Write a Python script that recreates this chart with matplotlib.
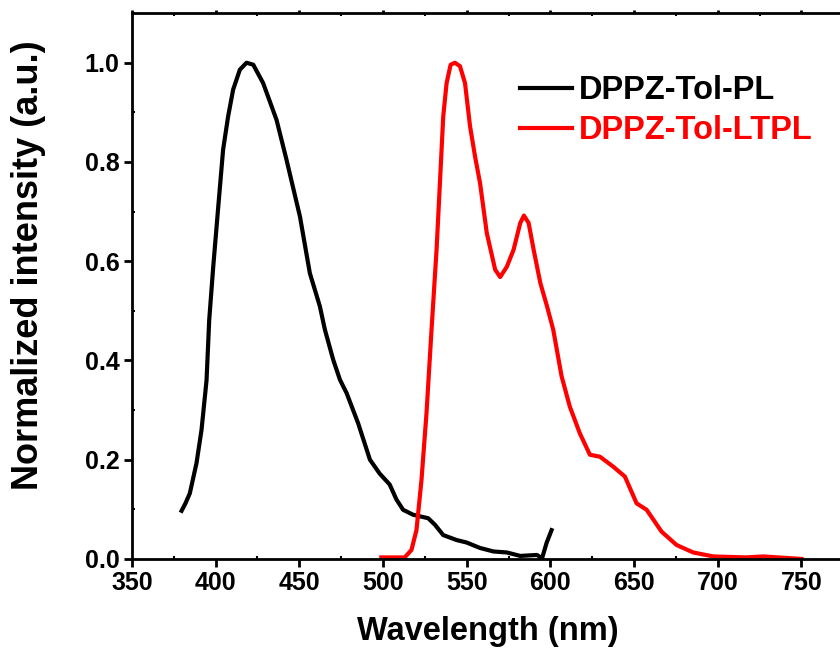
import matplotlib
matplotlib.use("Agg")
import matplotlib.pyplot as plt
from matplotlib.ticker import MultipleLocator

plt.rcParams['font.family'] = ['Liberation Sans', 'DejaVu Sans']
plt.rcParams['font.weight'] = 'bold'

# DPPZ-Tol-PL (black)
pl_wl = [379.7, 382.0, 384.6, 388.6, 391.6, 394.6, 396.2, 398.6, 401.6, 404.5,
         407.5, 410.5, 414.5, 418.5, 422.5, 428.4, 436.4, 442.4, 450.4, 456.3,
         462.3, 465.3, 470.3, 474.3, 478.3, 485.2, 492.2, 498.0, 504.0, 508.0,
         512.0, 518.0, 527.0, 531.0, 536.0, 544.0, 550.0, 558.0, 566.0, 574.0,
         582.0, 592.0, 595.0, 597.7, 600.7]
pl_int = [0.097, 0.112, 0.132, 0.193, 0.26, 0.36, 0.482, 0.589, 0.71, 0.825,
          0.892, 0.946, 0.986, 1.0, 0.996, 0.959, 0.885, 0.804, 0.69, 0.576,
          0.509, 0.462, 0.401, 0.361, 0.334, 0.273, 0.2, 0.172, 0.150, 0.120,
          0.099, 0.089, 0.082, 0.069, 0.048, 0.038, 0.033, 0.022, 0.015, 0.013,
          0.006, 0.008, 0.001, 0.032, 0.058]

# DPPZ-Tol-LTPL (red)
ltpl_wl = [499, 513, 517, 520, 523, 526, 529, 532, 534, 536, 538, 540.4, 543,
           546, 549, 552, 555, 558, 562, 567, 570, 574, 578, 582, 584.2, 587,
           590, 594, 598, 601.7, 606.7, 611.6, 617.6, 623.6, 629.6, 637.5,
           644.5, 651.5, 657.5, 666.4, 675.4, 685.3, 697.3, 717, 727, 750]
ltpl_int = [0.003, 0.003, 0.018, 0.058, 0.159, 0.294, 0.462, 0.623, 0.757,
            0.892, 0.959, 0.996, 1.0, 0.993, 0.959, 0.872, 0.811, 0.757, 0.657,
            0.583, 0.568, 0.589, 0.623, 0.677, 0.692, 0.677, 0.623, 0.556,
            0.509, 0.462, 0.368, 0.307, 0.253, 0.21, 0.206, 0.186, 0.166,
            0.112, 0.099, 0.055, 0.028, 0.013, 0.005, 0.003, 0.005, 0.0]

fig = plt.figure(figsize=(8.4, 6.56), dpi=100)
ax = fig.add_axes([0.157, 0.148, 0.843, 0.832])

ax.plot(pl_wl, pl_int, color='black', lw=3, label='DPPZ-Tol-PL',
        solid_joinstyle='round')
ax.plot(ltpl_wl, ltpl_int, color='red', lw=3, label='DPPZ-Tol-LTPL',
        solid_joinstyle='round')

ax.set_xlim(350, 773)
ax.set_ylim(0, 1.1)
ax.xaxis.set_major_locator(MultipleLocator(50))
ax.xaxis.set_minor_locator(MultipleLocator(25))
ax.yaxis.set_major_locator(MultipleLocator(0.2))
ax.yaxis.set_minor_locator(MultipleLocator(0.1))
ax.yaxis.set_major_formatter(plt.FormatStrFormatter('%.1f'))

for s in ['left', 'bottom', 'top']:
    ax.spines[s].set_linewidth(2)
ax.spines['right'].set_visible(False)

ax.tick_params(axis='both', which='major', direction='out', length=6, width=2,
               pad=3, labelsize=18)
ax.tick_params(axis='both', which='minor', direction='in', length=2, width=1.5)
ax.tick_params(axis='x', which='both', top=True)
for t in ax.xaxis.get_major_ticks():
    t.tick2line.set_markersize(2)

ax.set_xlabel('Wavelength (nm)', fontsize=23.5, fontweight='bold')
ax.set_ylabel('Normalized intensity (a.u.)', fontsize=26, fontweight='bold')
ax.xaxis.set_label_coords(0.502, -0.105)
ax.yaxis.set_label_coords(-0.121, 0.538)

ax.legend(loc='upper left', bbox_to_anchor=(520 / 840, 1 - 75 / 656),
          bbox_transform=fig.transFigure, frameon=False,
          handlelength=1.6, handletextpad=0.2, labelspacing=0.28,
          labelcolor='linecolor', borderaxespad=0, borderpad=0,
          prop={'weight': 'bold', 'size': 23.5})

fig.savefig('out.png', dpi=100)
